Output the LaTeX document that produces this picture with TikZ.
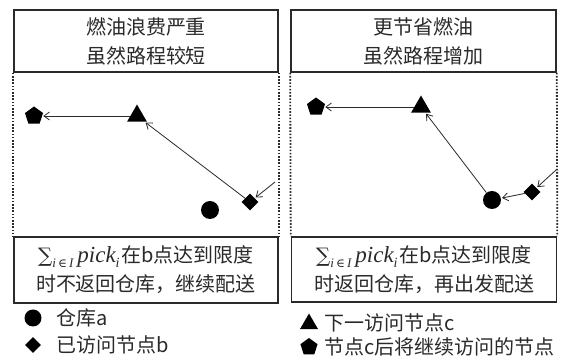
\documentclass[tikz,border=0pt]{standalone}
\usepackage{fontspec}
\setmainfont{Noto Sans CJK SC}
\newfontfamily\lserif{Liberation Serif}
\newfontfamily\dserif{DejaVu Serif}
\usetikzlibrary{shapes.geometric,arrows.meta}
\definecolor{ink}{HTML}{2A2A2A}
\newcommand{\pickterm}{{\dserif\fontsize{20}{20}\selectfont ∑}\raisebox{-5pt}{\fontsize{13}{13}\selectfont\lserif\itshape i\,{\dserif\upshape\fontsize{12}{12}\selectfont ∈}\,I}\kern4pt{\lserif\itshape\fontsize{23}{23}\selectfont pick}\raisebox{-5pt}{\fontsize{14}{14}\selectfont\lserif\itshape i}\kern2pt}
\tikzset{
  frame/.style={draw=ink,line width=1.6pt,inner sep=0pt,align=center,text=ink,font=\fontsize{20}{29}\selectfont},
  dots/.style={draw=ink,line width=1.8pt,dash pattern=on 1.6pt off 1.6pt},
  link/.style={draw=ink,line width=0.8pt,-{Straight Barb[length=5.5pt,width=8pt]},shorten >=1pt},
  pent/.style={regular polygon,regular polygon sides=5,fill=black,minimum size=19pt,inner sep=0pt},
  tri/.style={regular polygon,regular polygon sides=3,fill=black,minimum size=23pt,inner sep=0pt},
  dia/.style={diamond,fill=black,minimum size=17pt,inner sep=0pt},
  dep/.style={circle,fill=black,minimum size=18pt,inner sep=0pt},
  lgd/.style={anchor=west,text=ink,inner sep=0pt,font=\fontsize{20}{24}\selectfont}
}
\begin{document}
\begin{tikzpicture}[x=1pt,y=-1pt]
\useasboundingbox (0,0) rectangle (574,363);
% left panel
\node[frame,minimum width=264pt,minimum height=62pt] (t1) at (146,41) {燃油浪费严重\\虽然路程较短};
\node[frame,minimum width=264pt,minimum height=66pt] (b1) at (146,270) {\pickterm 在b点达到限度\\时不返回仓库，继续配送};
\draw[dots] (t1.south west) -- (b1.north west);
\draw[dots] (t1.south east) -- (b1.north east);
\node[pent] (p1) at (34,116) {};
\node[tri] (c1) at (137,116) {};
\node[dep] (a1) at (210,210) {};
\node[dia] (d1) at (250,202) {};
\coordinate (in1) at (275,182);
\draw[link] (in1) -- (d1);
\draw[link] (d1) -- (c1);
\draw[link] (c1) -- (p1);
% right panel
\node[frame,minimum width=265pt,minimum height=62pt] (t2) at (423.5,41) {更节省燃油\\虽然路程增加};
\node[frame,minimum width=265pt,minimum height=65pt] (b2) at (424,269.5) {\pickterm 在b点达到限度\\时返回仓库，再出发配送};
\draw[dots] (t2.south west) -- (b2.north west);
\draw[dots] (t2.south east) -- (b2.north east);
\node[pent] (p2) at (316,107) {};
\node[tri] (c2) at (421,107) {};
\node[dep] (a2) at (492,200) {};
\node[dia] (d2) at (532,192) {};
\coordinate (in2) at (556,170);
\draw[link] (in2) -- (d2);
\draw[link] (d2) -- (a2);
\draw[link] (a2) -- (c2);
\draw[link] (c2) -- (p2);
% legend
\node[dep,minimum size=17pt] (la) at (33,318) {};
\node[lgd] (lta) at (56,318) {仓库a};
\node[dia,minimum size=16pt] (lb) at (33,345) {};
\node[lgd] (ltb) at (56,345) {已访问节点b};
\node[tri,minimum size=21pt] (lc) at (309,324) {};
\node[lgd] (ltc) at (324,323) {下一访问节点c};
\node[pent,minimum size=18pt] (ld) at (309,347) {};
\node[lgd] (ltd) at (324,347) {节点c后将继续访问的节点};
\end{tikzpicture}
\end{document}
